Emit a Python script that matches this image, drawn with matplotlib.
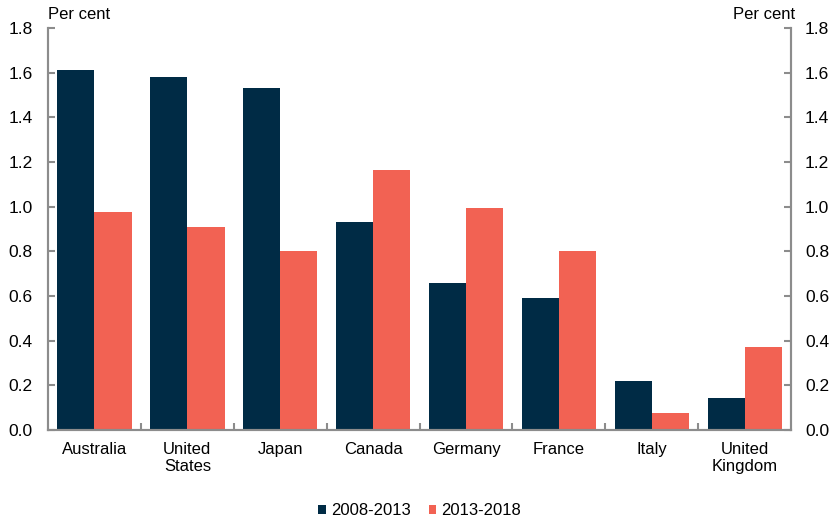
import numpy as np
import matplotlib.pyplot as plt
from matplotlib.ticker import FixedLocator

plt.rcParams['font.family'] = ['Liberation Sans', 'DejaVu Sans']

countries = ["Australia", "United\nStates", "Japan", "Canada", "Germany",
             "France", "Italy", "United\nKingdom"]
growth_0813 = [1.61, 1.58, 1.53, 0.93, 0.66, 0.59, 0.22, 0.145]
growth_1318 = [0.975, 0.91, 0.80, 1.165, 0.995, 0.80, 0.075, 0.37]
yticks = [0.0, 0.2, 0.4, 0.6, 0.8, 1.0, 1.2, 1.4, 1.6, 1.8]

NAVY = '#002B45'
CORAL = '#F26253'
GREY = '#8C8C8C'

fig = plt.figure(figsize=(8.34, 5.25), dpi=100)
ax = fig.add_axes([0.0576, 0.181, 0.891, 0.766])

x = np.arange(len(countries))
w = 0.4
ax.bar(x - w / 2, growth_0813, w, color=NAVY, label="2008-2013")
ax.bar(x + w / 2, growth_1318, w, color=CORAL, label="2013-2018")

ax.set_xlim(-0.5, len(countries) - 0.5)
ax.set_ylim(0, 1.8)
ax.set_yticks(yticks)
ax.set_yticklabels([f"{v:.1f}" for v in yticks])
ax.set_xticks(x)
ax.set_xticklabels(countries, fontsize=12, linespacing=1.1)
ax.tick_params(axis='x', length=0, pad=9)
# small inward ticks between the country groups
ax.xaxis.set_minor_locator(FixedLocator(x[:-1] + 0.5))
ax.tick_params(axis='x', which='minor', direction='in', length=5, color=GREY, width=1.5)
ax.tick_params(axis='y', direction='in', length=5, color=GREY, width=1.5,
               labelsize=12.5, pad=11)

# mirrored scale on the right
ax2 = ax.twinx()
ax2.set_ylim(0, 1.8)
ax2.set_yticks(yticks)
ax2.set_yticklabels([f"{v:.1f}" for v in yticks])
ax2.tick_params(axis='y', direction='in', length=5, color=GREY, width=1.5,
                labelsize=12.5, pad=10)
for a in (ax, ax2):
    a.spines['top'].set_visible(False)
    for s in ('left', 'right', 'bottom'):
        a.spines[s].set_color(GREY)
        a.spines[s].set_linewidth(1.5)

fig.text(0.0576, 0.958, "Per cent", fontsize=12, ha='left', va='bottom')
fig.text(0.953, 0.958, "Per cent", fontsize=12, ha='right', va='bottom')

ax.legend(loc='upper center', bbox_to_anchor=(0.5, -0.145), ncol=2, frameon=False,
          fontsize=12, handlelength=0.45, handleheight=0.45, handletextpad=0.3,
          columnspacing=1.1)

fig.savefig("out.png", dpi=100)
